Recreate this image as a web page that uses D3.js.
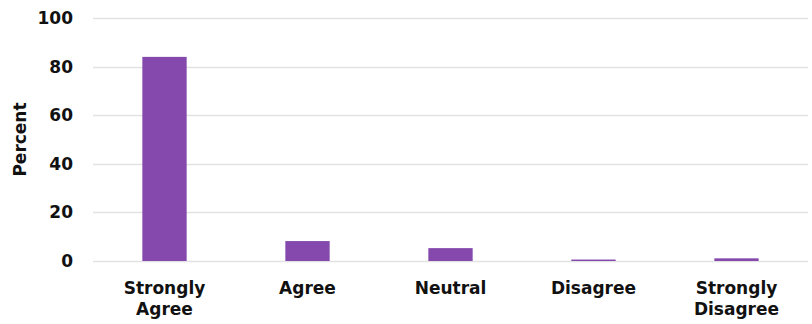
<!DOCTYPE html>
<html>
<head>
<meta charset="utf-8">
<script src="https://cdn.jsdelivr.net/npm/d3@7"></script>
<style>
  html, body { margin: 0; padding: 0; background: #fff; }
  svg { display: block; }
  text { font-family: "DejaVu Sans", sans-serif; font-weight: bold; fill: #111; }
</style>
</head>
<body>
<svg id="chart" width="812" height="324"></svg>
<script>
const categories = ["Strongly Agree", "Agree", "Neutral", "Disagree", "Strongly Disagree"];
const percents = [84.0, 8.2, 5.3, 0.6, 1.1];
const yTicks = [0, 20, 40, 60, 80, 100];

const width = 812, height = 324;
const margin = { top: 18, right: 4, bottom: 63, left: 93 };

const svg = d3.select("#chart");

const x = d3.scaleBand()
  .domain(categories)
  .range([margin.left, width - margin.right])
  .paddingInner(0.69)
  .paddingOuter(0.345);

const y = d3.scaleLinear()
  .domain([0, 100])
  .range([height - margin.bottom, margin.top]);

// horizontal gridlines
svg.append("g")
  .selectAll("line")
  .data(yTicks)
  .join("line")
  .attr("x1", margin.left)
  .attr("x2", width - margin.right)
  .attr("y1", d => Math.round(y(d)) + 0.5)
  .attr("y2", d => Math.round(y(d)) + 0.5)
  .attr("stroke", "#e2e2e2")
  .attr("stroke-width", 1.5);

// y axis labels
const yAxis = svg.append("g")
  .attr("transform", `translate(${margin.left},0)`)
  .call(d3.axisLeft(y).tickValues(yTicks).tickSize(0).tickPadding(20));
yAxis.select(".domain").remove();
yAxis.selectAll("text")
  .style("font-family", "'DejaVu Sans', sans-serif")
  .style("font-weight", "bold")
  .style("font-size", "17px")
  .attr("fill", "#111");

// bars
svg.append("g")
  .selectAll("rect")
  .data(categories)
  .join("rect")
  .attr("x", d => x(d))
  .attr("width", x.bandwidth())
  .attr("y", (d, i) => y(percents[i]))
  .attr("height", (d, i) => y(0) - y(percents[i]))
  .attr("fill", "#8549ae");

// category labels, wrapped at the space for two-word names
const xl = svg.append("g");
categories.forEach(c => {
  const words = c.split(" ");
  const t = xl.append("text")
    .attr("text-anchor", "middle")
    .attr("x", x(c) + x.bandwidth() / 2)
    .attr("y", 294)
    .style("font-size", "17px");
  words.forEach((w, j) => {
    t.append("tspan")
      .attr("x", x(c) + x.bandwidth() / 2)
      .attr("dy", j === 0 ? 0 : 21)
      .text(w);
  });
});

// y axis title
svg.append("text")
  .attr("transform", `translate(26,${(y(0) + y(100)) / 2}) rotate(-90)`)
  .attr("text-anchor", "middle")
  .style("font-size", "17px")
  .text("Percent");
</script>
</body>
</html>
